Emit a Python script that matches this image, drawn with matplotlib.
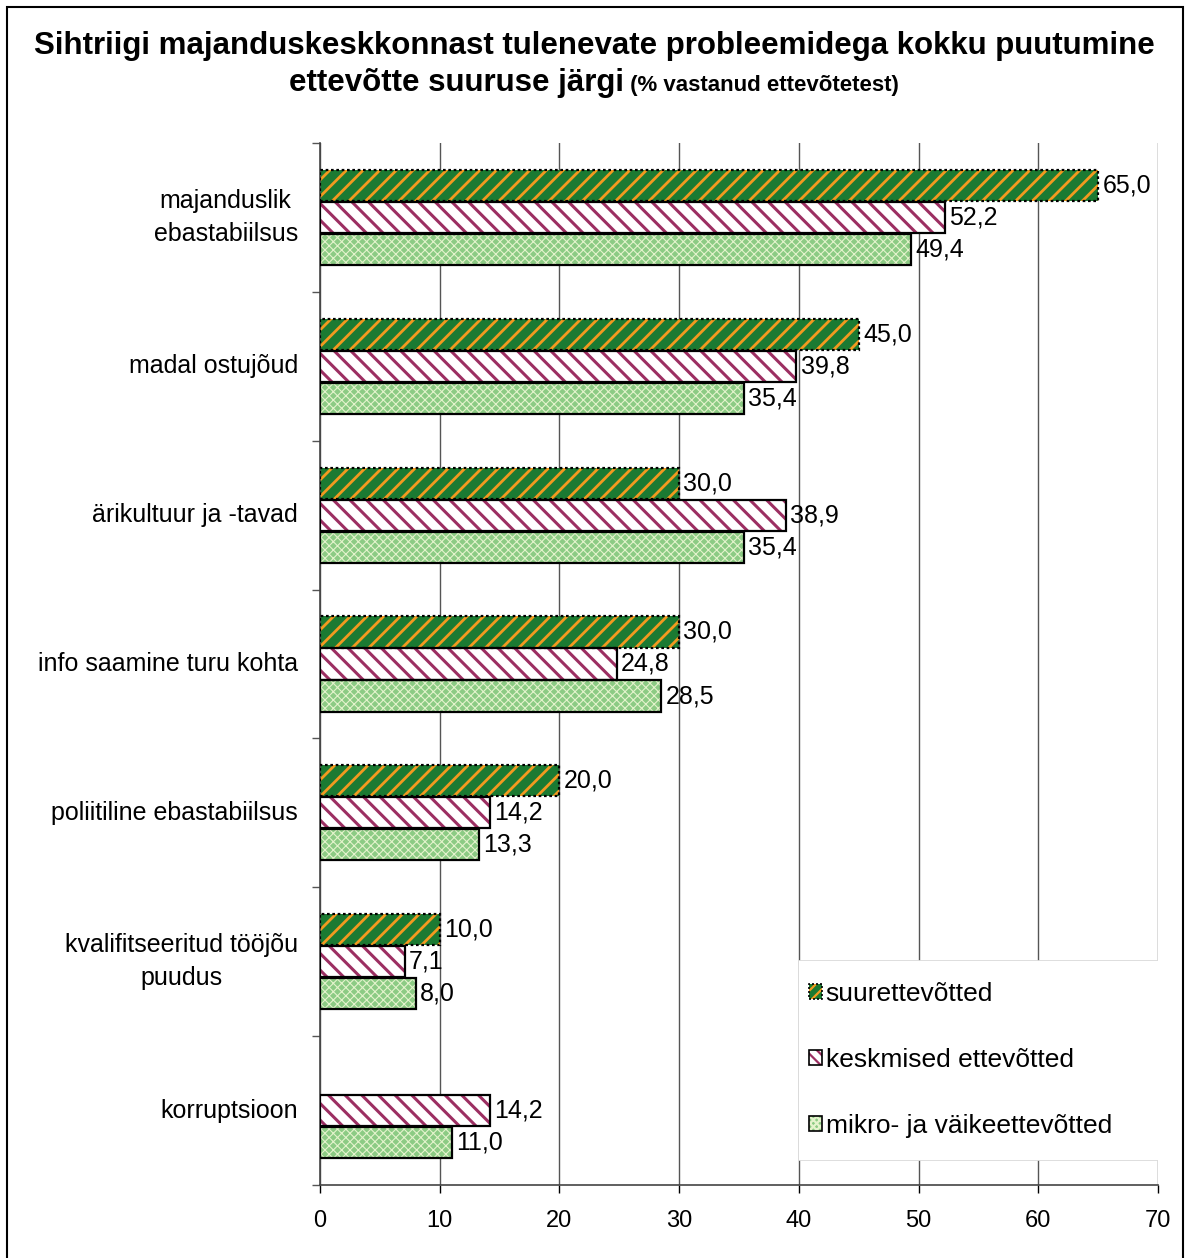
import matplotlib
matplotlib.use('Agg')
import matplotlib.pyplot as plt
from matplotlib.patches import Rectangle, Patch
import numpy as np

plt.rcParams['font.family'] = ['Liberation Sans', 'DejaVu Sans']

# Data
categories = ['majanduslik\nebastabiilsus', 'madal ostujõud', 'ärikultuur ja -tavad',
              'info saamine turu kohta', 'poliitiline ebastabiilsus',
              'kvalifitseeritud tööjõu\npuudus', 'korruptsioon']
series_names = ['suurettevõtted', 'keskmised ettevõtted', 'mikro- ja väikeettevõtted']
suur = [65.0, 45.0, 30.0, 30.0, 20.0, 10.0, None]
keskmised = [52.2, 39.8, 38.9, 24.8, 14.2, 7.1, 14.2]
mikro = [49.4, 35.4, 35.4, 28.5, 13.3, 8.0, 11.0]
x_ticks = [0, 10, 20, 30, 40, 50, 60, 70]

# styles: face, hatch, hatch color, hatch lw, outline style
styles = [
    dict(face='#1b7a32', hatch='//', hcolor='#f29a1f', hlw=2.0, ls=(0, (1.2, 1.2))),
    dict(face='white', hatch='\\\\', hcolor='#9c2f62', hlw=2.2, ls='-'),
    dict(face='#8ccb84', hatch='xxxx', hcolor='#e4f3cc', hlw=0.8, ls='-'),
]

W, H = 1188, 1258
fig = plt.figure(figsize=(W / 100, H / 100), dpi=100)
ax = fig.add_axes([320 / W, 1 - 1185 / H, 838 / W, 1042 / H])

n = len(categories)
y_center = np.arange(n)[::-1] + 0.5
bh = 0.21
offsets = [0.215, 0.0, -0.215]

for vals, st, off in zip([suur, keskmised, mikro], styles, offsets):
    ys = [y + off for y, v in zip(y_center, vals) if v is not None]
    vs = [v for v in vals if v is not None]
    with plt.rc_context({'hatch.linewidth': st['hlw']}):
        fill = ax.barh(ys, vs, height=bh, color=st['face'], hatch=st['hatch'],
                       edgecolor=st['hcolor'], linewidth=0, zorder=2)
    for p in fill:
        if hasattr(p, 'set_hatch_linewidth'):
            p.set_hatch_linewidth(st['hlw'])
    ax.barh(ys, vs, height=bh, facecolor='none', edgecolor='black',
            linewidth=1.6, linestyle=st['ls'], zorder=3)
    for y, v in zip(ys, vs):
        ax.annotate(f'{v:.1f}'.replace('.', ','), (v, y), xytext=(3, 0),
                    textcoords='offset points', va='center', ha='left',
                    fontsize=18, zorder=4)

ax.set_xlim(0, 70)
ax.set_ylim(0, n)
ax.set_xticks(x_ticks)
ax.set_xticklabels([str(t) for t in x_ticks], fontsize=17)
ax.tick_params(axis='x', length=6, width=1, pad=12, color='black')
ax.grid(axis='x', color='#555555', linewidth=1.0)
ax.set_axisbelow(True)

ax.set_yticks(y_center)
ax.set_yticklabels(categories, fontsize=18, linespacing=1.5)
for t in ax.get_yticklabels():
    t.set_multialignment('center')
    t.set_verticalalignment('center')
ax.set_yticks(np.arange(n + 1), minor=True)
ax.tick_params(axis='y', which='major', length=0, pad=16)
ax.tick_params(axis='y', which='minor', length=6, width=1, color='#555555')

for s in ['top', 'right']:
    ax.spines[s].set_visible(False)
ax.spines['left'].set_color('#444444')
ax.spines['bottom'].set_color('#444444')
ax.spines['left'].set_linewidth(1.2)
ax.spines['bottom'].set_linewidth(1.2)

# legend box covering the grid
lx0, lx1 = (798 - 320) / 838, 1.0
ly0, ly1 = (1185 - 1160) / 1042, (1185 - 960) / 1042
ax.add_patch(Rectangle((lx0, ly0), lx1 - lx0, ly1 - ly0, transform=ax.transAxes,
                       facecolor='white', edgecolor='#d8d8d8', linewidth=0.6,
                       zorder=1.5))
handles = []
for st in styles:
    with plt.rc_context({'hatch.linewidth': st['hlw'] * 0.8}):
        f = Patch(facecolor=st['face'], hatch=st['hatch'] + st['hatch'][0],
                  edgecolor=st['hcolor'], linewidth=0)
    o = Patch(facecolor='none', edgecolor='black', linewidth=1.2, linestyle=st['ls'])
    handles.append((f, o))
with plt.rc_context({'hatch.linewidth': 1.6}):
    leg = ax.legend(handles, series_names, loc='center left',
                    bbox_to_anchor=(lx0, ly0, lx1 - lx0, ly1 - ly0),
                    frameon=False, fontsize=19, handlelength=0.5, handleheight=0.5,
                    handletextpad=0.15, labelspacing=1.6, borderaxespad=0.0)
leg.set_zorder(5)

# figure frame
fig.add_artist(Rectangle((7 / W, -0.01), 1176 / W, 1 - 7 / H + 0.01,
                         transform=fig.transFigure, facecolor='none',
                         edgecolor='black', linewidth=1.5))

# title
fig.text(0.5, 1 - 46 / H, 'Sihtriigi majanduskeskkonnast tulenevate probleemidega kokku puutumine',
         ha='center', va='center', fontsize=22.5, fontweight='bold')
t1 = fig.text(0.5, 1 - 80 / H, 'ettevõtte suuruse järgi', ha='left', va='baseline',
              fontsize=22.5, fontweight='bold')
t2 = fig.text(0.5, 1 - 80 / H, ' (% vastanud ettevõtetest)', ha='left', va='baseline',
              fontsize=16, fontweight='bold')
fig.canvas.draw()
r = fig.canvas.get_renderer()
w1 = t1.get_window_extent(r).width
w2 = t2.get_window_extent(r).width
x0 = (W / 2 - (w1 + w2) / 2) / W
base = 1 - 91 / H
t1.set_position((x0, base))
t2.set_position((x0 + w1 / W, base))

fig.savefig('out.png', dpi=100)
